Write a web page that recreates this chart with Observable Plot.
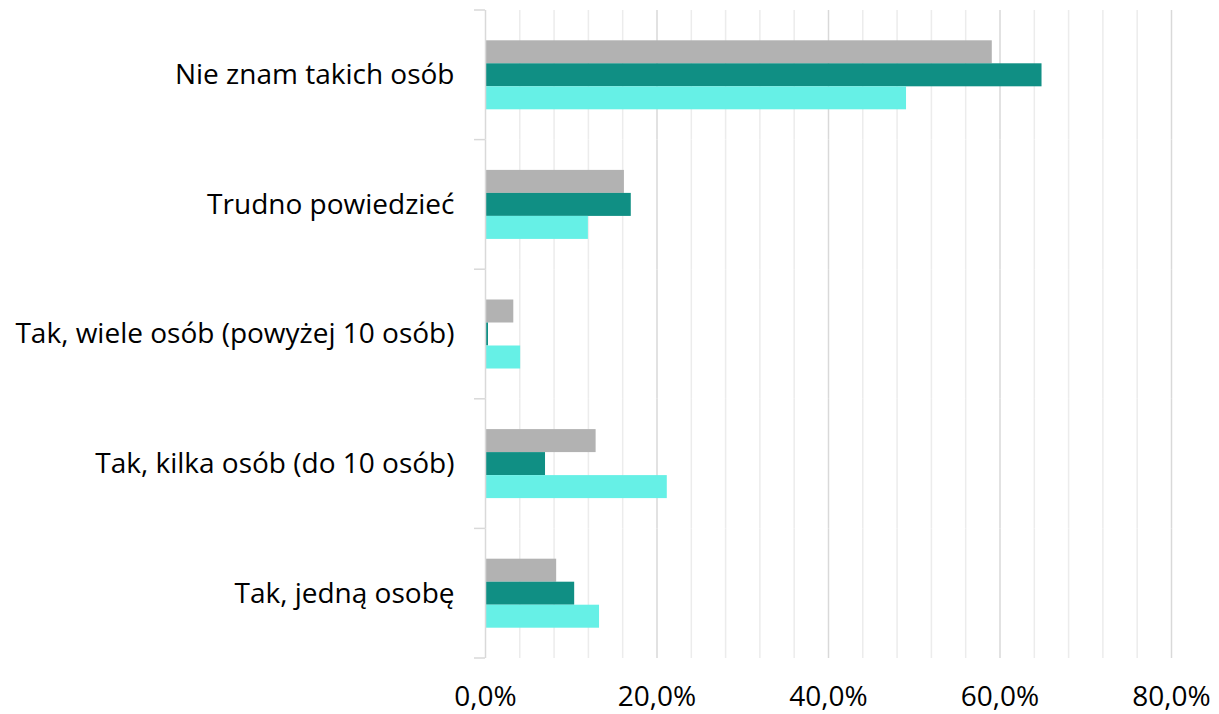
<!DOCTYPE html>
<html>
<head>
<meta charset="utf-8">
<script src="https://cdn.jsdelivr.net/npm/d3@7"></script>
<script src="https://cdn.jsdelivr.net/npm/@observablehq/plot@0.6"></script>
<style>
  html, body { margin: 0; padding: 0; background: #fff; }
  #chart { width: 1219px; height: 714px; }
</style>
</head>
<body>
<div id="chart"></div>
<script>
const categories = [
  "Nie znam takich osób",
  "Trudno powiedzieć",
  "Tak, wiele osób (powyżej 10 osób)",
  "Tak, kilka osób (do 10 osób)",
  "Tak, jedną osobę"
];
const series = ["Seria 1", "Seria 2", "Seria 3"];
const values1 = [59.1, 16.2, 3.3, 12.9, 8.3];
const values2 = [64.9, 17.0, 0.35, 7.0, 10.4];
const values3 = [49.1, 12.0, 4.1, 21.2, 13.3];
const colors = ["#b2b2b2", "#108f84", "#66f0e6"];
const xTicks = [0, 20, 40, 60, 80];
const minorTicks = [4, 8, 12, 16, 24, 28, 32, 36, 44, 48, 52, 56, 64, 68, 72, 76];

const allValues = [values1, values2, values3];
const rows = [];
categories.forEach((c, i) => {
  series.forEach((s, j) => rows.push({category: c, series: s, value: allValues[j][i]}));
});

const plot = Plot.plot({
  width: 1219,
  height: 714,
  marginLeft: 485,
  marginRight: 48,
  marginTop: 10,
  marginBottom: 56,
  style: {fontFamily: "'Open Sans', sans-serif", fontSize: "28px", color: "#000", background: "#fff"},
  x: {domain: [0, 80], label: null},
  y: {domain: series, paddingInner: 0, paddingOuter: 1.317, round: false, axis: null},
  fy: {domain: categories, padding: 0, round: false, label: null},
  color: {domain: series, range: colors},
  marks: [
    Plot.ruleX(minorTicks, {stroke: "#ececec", strokeWidth: 1.5}),
    Plot.ruleX(xTicks.slice(1), {stroke: "#d9d9d9", strokeWidth: 1.5}),
    Plot.barX(rows, {x: "value", y: "series", fy: "category", fill: "series"}),
    Plot.ruleX([0], {stroke: "#d9d9d9", strokeWidth: 1.5}),
    Plot.axisX({ticks: xTicks, tickSize: 0, tickPadding: 28, fontSize: 28, fill: "#000",
      tickFormat: d => d.toFixed(1).replace(".", ",") + "%", label: null}),
    Plot.axisFy({anchor: "left", tickSize: 0, tickPadding: 31, fontSize: 28, fill: "#000", label: null})
  ]
});

// category boundary ticks on the left axis, placed with Plot's own scales
const fy = plot.scale("fy");
const xs = plot.scale("x");
const x0 = xs.apply(0);
const bounds = categories.map(c => fy.apply(c));
bounds.push(fy.apply(categories[categories.length - 1]) + fy.bandwidth);
d3.select(plot).append("g")
  .selectAll("line").data(bounds).join("line")
  .attr("x1", x0 - 11).attr("x2", x0)
  .attr("y1", d => d).attr("y2", d => d)
  .attr("stroke", "#d9d9d9").attr("stroke-width", 1.5);

document.getElementById("chart").appendChild(plot);
</script>
</body>
</html>
